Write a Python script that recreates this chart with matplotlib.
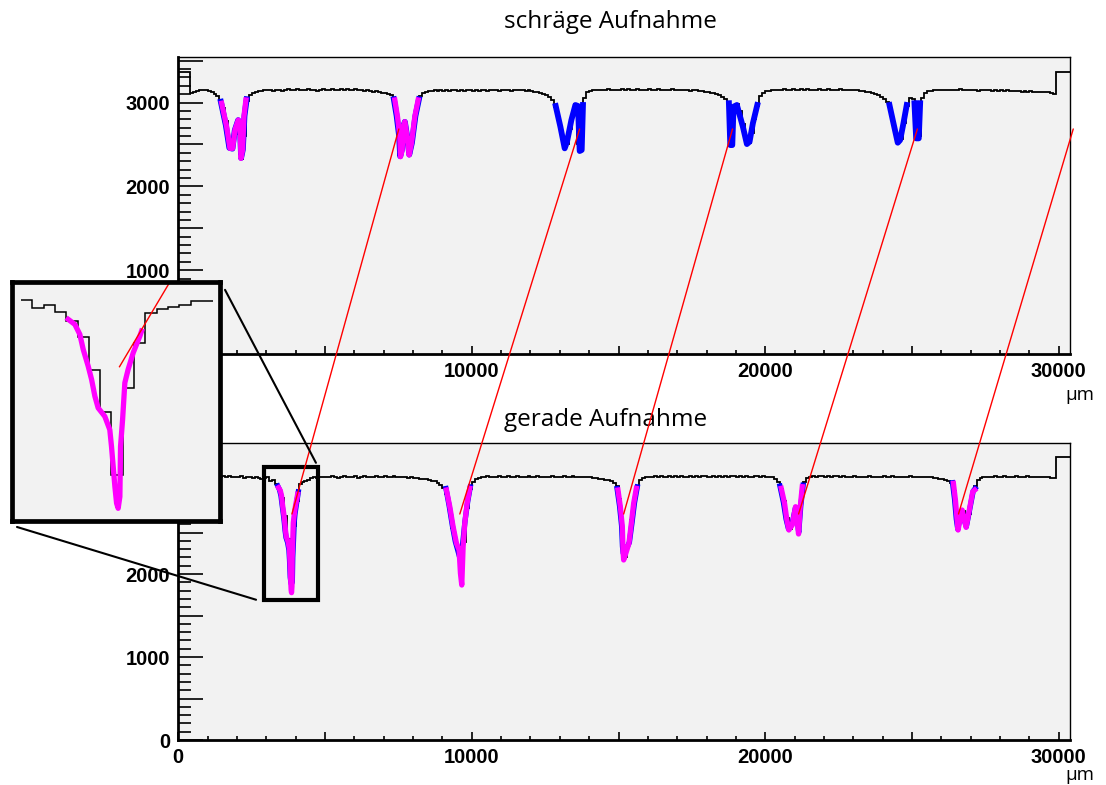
import numpy as np
import matplotlib.pyplot as plt
from matplotlib.patches import Rectangle, ConnectionPatch
from matplotlib.ticker import MultipleLocator, FuncFormatter

# Histogramme: 100 um Bins von 0 bis 30400 um
edges = np.arange(0, 30401, 100)

top_counts = [
    3370, 3370, 3370, 3370, 3112, 3124, 3138, 3146, 3152, 3149,
    3141, 3128, 3105, 3075, 3030, 2930, 2780, 2560, 2450, 2620,
    2780, 2330, 2600, 3020, 3085, 3118, 3130, 3142, 3138, 3150,
    3145, 3152, 3140, 3148, 3155, 3143, 3150, 3158, 3146, 3152,
    3160, 3148, 3155, 3150, 3162, 3147, 3153, 3141, 3149, 3156,
    3152, 3145, 3160, 3153, 3149, 3158, 3150, 3163, 3148, 3152,
    3157, 3146, 3150, 3142, 3148, 3138, 3130, 3134, 3126, 3118,
    3112, 3100, 3085, 3060, 2900, 2450, 2600, 2740, 2420, 2480,
    2800, 3000, 3080, 3112, 3128, 3138, 3135, 3144, 3140, 3148,
    3142, 3150, 3138, 3146, 3152, 3140, 3147, 3136, 3145, 3150,
    3143, 3148, 3140, 3152, 3146, 3139, 3150, 3144, 3148, 3141,
    3150, 3146, 3153, 3140, 3148, 3144, 3152, 3146, 3140, 3148,
    3138, 3130, 3126, 3115, 3100, 3085, 3065, 3030, 2950, 2800,
    2640, 2480, 2500, 2680, 2850, 2980, 2500, 2440, 3050, 3125,
    3140, 3148, 3152, 3145, 3155, 3149, 3158, 3150, 3146, 3154,
    3148, 3156, 3150, 3160, 3146, 3152, 3157, 3148, 3155, 3150,
    3158, 3145, 3152, 3160, 3149, 3155, 3147, 3153, 3158, 3146,
    3152, 3148, 3155, 3150, 3143, 3152, 3146, 3140, 3135, 3130,
    3126, 3120, 3112, 3100, 3088, 3070, 3048, 3010, 2520, 2900,
    2980, 2900, 2740, 2560, 2520, 2640, 2800, 2960, 3080, 3118,
    3135, 3142, 3150, 3146, 3155, 3150, 3158, 3148, 3153, 3160,
    3151, 3147, 3156, 3152, 3160, 3149, 3155, 3150, 3158, 3146,
    3153, 3160, 3150, 3155, 3148, 3157, 3152, 3146, 3154, 3150,
    3146, 3150, 3142, 3138, 3132, 3125, 3118, 3108, 3092, 3070,
    3040, 3010, 2960, 2800, 2640, 2530, 2560, 2760, 2960, 3060,
    3040, 2580, 2600, 3060, 3120, 3135, 3142, 3150, 3146, 3152,
    3148, 3155, 3150, 3145, 3153, 3148, 3156, 3150, 3146, 3152,
    3145, 3150, 3142, 3148, 3152, 3144, 3150, 3140, 3146, 3142,
    3148, 3140, 3145, 3138, 3142, 3135, 3140, 3132, 3138, 3130,
    3136, 3128, 3132, 3125, 3130, 3122, 3126, 3118, 3108, 3370,
    3370, 3370, 3370, 3370,
]

bot_counts = [
    3400, 3400, 3400, 3400, 3150, 3160, 3172, 3165, 3178, 3170,
    3176, 3168, 3180, 3172, 3166, 3175, 3170, 3178, 3165, 3172,
    3168, 3175, 3162, 3170, 3165, 3158, 3166, 3160, 3150, 3158,
    3170, 3115, 3135, 3090, 3030, 2920, 2700, 2420, 2000, 2580,
    2880, 3080, 3110, 3120, 3135, 3160, 3165, 3158, 3170, 3164,
    3172, 3166, 3175, 3168, 3160, 3170, 3177, 3165, 3172, 3168,
    3175, 3162, 3170, 3178, 3166, 3173, 3168, 3176, 3164, 3170,
    3178, 3166, 3172, 3180, 3168, 3174, 3165, 3172, 3160, 3168,
    3162, 3155, 3150, 3145, 3140, 3132, 3125, 3118, 3100, 3070,
    3040, 2960, 2780, 2560, 2400, 2300, 1900, 2380, 2800, 3020,
    3110, 3150, 3162, 3170, 3166, 3175, 3168, 3172, 3165, 3176,
    3170, 3164, 3178, 3168, 3172, 3180, 3166, 3174, 3168, 3175,
    3165, 3172, 3178, 3168, 3174, 3166, 3170, 3176, 3164, 3172,
    3168, 3175, 3165, 3172, 3178, 3166, 3170, 3164, 3172, 3168,
    3165, 3160, 3158, 3150, 3145, 3136, 3128, 3115, 3095, 3060,
    2900, 2450, 2200, 2350, 2650, 2900, 3060, 3130, 3155, 3168,
    3172, 3165, 3176, 3170, 3178, 3166, 3174, 3180, 3168, 3175,
    3170, 3178, 3166, 3174, 3182, 3170, 3176, 3168, 3175, 3180,
    3172, 3168, 3178, 3174, 3180, 3170, 3176, 3172, 3182, 3175,
    3170, 3178, 3172, 3180, 3174, 3168, 3176, 3182, 3172, 3178,
    3174, 3170, 3165, 3150, 3110, 3030, 2880, 2680, 2540, 2600,
    2760, 2500, 2950, 3110, 3155, 3170, 3176, 3168, 3175, 3180,
    3172, 3178, 3168, 3175, 3180, 3170, 3176, 3166, 3174, 3170,
    3178, 3168, 3174, 3166, 3172, 3178, 3170, 3164, 3172, 3168,
    3175, 3166, 3172, 3178, 3168, 3174, 3165, 3172, 3168, 3175,
    3170, 3166, 3174, 3168, 3172, 3165, 3170, 3162, 3158, 3150,
    3145, 3138, 3125, 3100, 3000, 2600, 2700, 2760, 2580, 2720,
    2950, 3060, 3130, 3158, 3170, 3166, 3174, 3168, 3176, 3170,
    3172, 3178, 3168, 3174, 3170, 3176, 3166, 3172, 3168, 3175,
    3170, 3165, 3172, 3168, 3174, 3166, 3170, 3162, 3158, 3410,
    3410, 3410, 3410, 3410,
]

# Fitkurven der Minima (ein Eintrag je Kurvenstueck)
top_blue_x = [
    [1450, 1620, 1740, 1845, 1925, 2040, 2100, 2140, 2200, 2255, 2330],
    [7345, 7440, 7525, 7560, 7620, 7660, 7720, 7800, 7870, 7960, 8080, 8200],
    [12860, 13019, 13166, 13245, 13394, 13530, 13619, 13677, 13745, 13789],
    [18761, 18808, 18876, 18920, 19033, 19237, 19374, 19465, 19578, 19728],
    [24232, 24368, 24514, 24596, 24708, 24821],
    [25083, 25141, 25230, 25277],
]
top_blue_y = [
    [3010, 2730, 2460, 2450, 2670, 2790, 2750, 2340, 2440, 2840, 3040],
    [3040, 2840, 2600, 2360, 2440, 2710, 2770, 2590, 2380, 2520, 2840, 3040],
    [2959, 2712, 2454, 2533, 2792, 2971, 2959, 2422, 2434, 2971],
    [2992, 2493, 2493, 2951, 2971, 2712, 2505, 2533, 2753, 2971],
    [2971, 2753, 2521, 2553, 2753, 2971],
    [2992, 2573, 2573, 2992],
]
top_pink_x = [
    [1478, 1648, 1760, 1851, 1931, 2043, 2101, 2135, 2191, 2237, 2305],
    [7378, 7469, 7549, 7571, 7627, 7661, 7719, 7797, 7865, 7946, 8059, 8172],
]
top_pink_y = [
    [2992, 2712, 2454, 2454, 2673, 2792, 2753, 2334, 2434, 2832, 3031],
    [3031, 2832, 2593, 2354, 2434, 2712, 2772, 2593, 2374, 2514, 2832, 3031],
]

bot_blue_x = [
    [3390, 3450, 3500, 3535, 3580, 3610, 3640, 3670, 3725, 3770, 3790,
     3815, 3835, 3850, 3885, 3900, 3925, 3950, 3975, 4020, 4070, 4090],
    [9120, 9230, 9340, 9440, 9520, 9580, 9640, 9700, 9770, 9860, 9950],
    [14950, 15035, 15105, 15135, 15160, 15260, 15370, 15460, 15545, 15640],
    [20500, 20620, 20710, 20790, 20910, 21030, 21080, 21140, 21210, 21290],
    [26380, 26450, 26510, 26560, 26640, 26700, 26790, 26850, 26945, 27085, 27150],
]
bot_blue_y = [
    [3060, 3015, 2940, 2840, 2720, 2630, 2520, 2440, 2380, 2290, 2170,
     1960, 1900, 1880, 1900, 2200, 2400, 2620, 2720, 2830, 2940, 2990],
    [3030, 2820, 2580, 2390, 2290, 2210, 2230, 2400, 2640, 2870, 3050],
    [3030, 2820, 2580, 2330, 2250, 2300, 2380, 2620, 2860, 3050],
    [3060, 2860, 2660, 2545, 2600, 2800, 2700, 2500, 2820, 3070],
    [3100, 2900, 2660, 2540, 2690, 2760, 2640, 2570, 2740, 3000, 3030],
]
bot_pink_x = [
    [3417, 3476, 3520, 3550, 3594, 3624, 3653, 3682, 3741, 3785, 3800,
     3830, 3845, 3859, 3874, 3880, 3898, 3918, 3947, 3992, 4051, 4066],
    [9137, 9251, 9364, 9478, 9568, 9614, 9659, 9705, 9761, 9841, 9932],
    [14981, 15062, 15130, 15152, 15175, 15266, 15355, 15436, 15516, 15607],
    [20544, 20657, 20736, 20804, 20919, 21032, 21077, 21134, 21192, 21260],
    [26411, 26479, 26536, 26570, 26649, 26706, 26785, 26843, 26932, 27068, 27136],
]
bot_pink_y = [
    [3040, 3006, 2939, 2838, 2726, 2637, 2525, 2447, 2390, 2301, 2189,
     1920, 1809, 1775, 1853, 2189, 2368, 2615, 2704, 2816, 2928, 2961],
    [3012, 2811, 2570, 2370, 2289, 2008, 1867, 2329, 2611, 2852, 3032],
    [3012, 2811, 2570, 2289, 2169, 2269, 2370, 2611, 2852, 3032],
    [3032, 2852, 2651, 2530, 2590, 2811, 2690, 2482, 2811, 3052],
    [3092, 2892, 2651, 2530, 2690, 2771, 2651, 2562, 2731, 2992, 3012],
]

# zugeordnete Minima: schraeg -> gerade
link_top_x = [7515, 13675, 18884, 25183, 30494]
link_top_y = [2685, 2685, 2685, 2685, 2685]
link_bot_x = [3871, 9592, 15176, 21135, 26583]
link_bot_y = [2723, 2723, 2723, 2723, 2723]

# Ausschnitt fuer die Vergroesserung
zoom_x = (2920, 4760)
zoom_y = (1690, 3290)

tick_font = {'family': 'Liberation Sans', 'weight': 'bold', 'size': 14.5}
text_font = 'Open Sans'


def y_label(v, pos):
    return f'{v:.0f}' if v % 1000 == 0 else ''


def x_label(v, pos):
    return f'{v:.0f}' if v % 10000 == 0 else ''


fig = plt.figure(figsize=(11.06, 7.85), dpi=100)
ax_top = fig.add_axes([0.1612, 0.5490, 0.8067, 0.3780])
ax_bot = fig.add_axes([0.1612, 0.0573, 0.8067, 0.3780])

for ax, counts, ymax in ((ax_top, top_counts, 3540), (ax_bot, bot_counts, 3575)):
    ax.set_facecolor('#f2f2f2')
    ax.stairs(counts, edges, baseline=None, color='black', lw=1.3, zorder=2)
    ax.set_xlim(0, 30400)
    ax.set_ylim(0, ymax)
    for s in ('left', 'bottom'):
        ax.spines[s].set_linewidth(2.0)
    for s in ('top', 'right'):
        ax.spines[s].set_linewidth(1.0)
    ax.yaxis.set_major_locator(MultipleLocator(500))
    ax.yaxis.set_minor_locator(MultipleLocator(100))
    ax.xaxis.set_major_locator(MultipleLocator(5000))
    ax.xaxis.set_minor_locator(MultipleLocator(1000))
    ax.yaxis.set_major_formatter(FuncFormatter(y_label))
    ax.xaxis.set_major_formatter(FuncFormatter(x_label))
    ax.tick_params(axis='y', which='major', direction='in', length=18, width=1.2, pad=6)
    ax.tick_params(axis='y', which='minor', direction='in', length=9, width=1.2)
    ax.tick_params(axis='x', which='major', direction='in', length=6, width=1.2, pad=6)
    ax.tick_params(axis='x', which='minor', direction='in', length=3, width=1.2)
    for lab in ax.get_xticklabels() + ax.get_yticklabels():
        lab.set_fontfamily(tick_font['family'])
        lab.set_fontweight(tick_font['weight'])
        lab.set_fontsize(tick_font['size'])

for xs, ys in zip(top_blue_x, top_blue_y):
    ax_top.plot(xs, ys, color='#0000ff', lw=4.2, zorder=3)
for xs, ys in zip(top_pink_x, top_pink_y):
    ax_top.plot(xs, ys, color='#ff00ff', lw=3.8, zorder=4)
for xs, ys in zip(bot_blue_x, bot_blue_y):
    ax_bot.plot(xs, ys, color='#0000ff', lw=3.8, zorder=3)
for xs, ys in zip(bot_pink_x, bot_pink_y):
    ax_bot.plot(xs, ys, color='#ff00ff', lw=3.8, zorder=4)

# Rahmen um das vergroesserte Minimum
ax_bot.add_patch(Rectangle((zoom_x[0], zoom_y[0]), zoom_x[1] - zoom_x[0],
                           zoom_y[1] - zoom_y[0], fill=False, ec='black',
                           lw=3.0, zorder=5, clip_on=False))

# rote Verbindungslinien zwischen den Aufnahmen
for tx, ty, bx, by in zip(link_top_x, link_top_y, link_bot_x, link_bot_y):
    con = ConnectionPatch(xyA=(tx, ty), coordsA=ax_top.transData,
                          xyB=(bx, by), coordsB=ax_bot.transData,
                          color='red', lw=1.0, zorder=5)
    fig.add_artist(con)

# Vergroesserung links
ax_in = fig.add_axes([0.01085, 0.3363, 0.1881, 0.3045], zorder=10)
ax_in.set_facecolor('#f2f2f2')
ax_in.stairs(bot_counts[30:47], edges[30:48], baseline=None, color='black', lw=1.1)
ax_in.plot(bot_pink_x[0], bot_pink_y[0], color='#ff00ff', lw=3.8)
p = ax_top.transData.transform((link_top_x[0], link_top_y[0]))
p = ax_bot.transData.inverted().transform(p)
ax_in.plot([link_bot_x[0], p[0]], [link_bot_y[0], p[1]], color='red', lw=1.0)
ax_in.set_xlim(*zoom_x)
ax_in.set_ylim(*zoom_y)
ax_in.set_xticks([])
ax_in.set_yticks([])
for s in ax_in.spines.values():
    s.set_linewidth(3.4)

for xyA, xyB in (((1.024, 0.967), (4690, 3340)), ((0.024, -0.025), (2650, 1690))):
    con = ConnectionPatch(xyA=xyA, coordsA=ax_in.transAxes,
                          xyB=xyB, coordsB=ax_bot.transData,
                          color='black', lw=1.5, zorder=6)
    fig.add_artist(con)

fig.text(610 / 1106, 1 - 22 / 785, 'schräge Aufnahme', ha='center', va='center',
         fontsize=17.5, family=text_font)
fig.text(606 / 1106, 1 - 420 / 785, 'gerade Aufnahme', ha='center', va='center',
         fontsize=17.5, family=text_font)
fig.text(1080 / 1106, 1 - 395 / 785, 'μm', ha='center', va='center',
         fontsize=13.5, family=text_font)
fig.text(1080 / 1106, 1 - 775 / 785, 'μm', ha='center', va='center',
         fontsize=13.5, family=text_font)

fig.savefig('out.png', dpi=100, facecolor='white')
